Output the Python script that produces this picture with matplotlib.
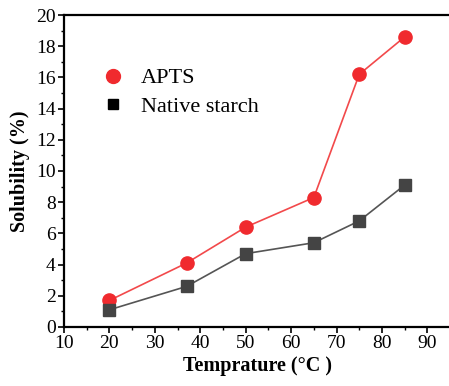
import matplotlib
matplotlib.use("Agg")
import matplotlib.pyplot as plt
from matplotlib.ticker import MultipleLocator
from matplotlib.lines import Line2D

# data
temp = [20, 37, 50, 65, 75, 85]
apts = [1.7, 4.1, 6.4, 8.3, 16.2, 18.6]
native = [1.1, 2.6, 4.7, 5.4, 6.8, 9.1]

plt.rcParams['font.family'] = ['Liberation Serif', 'DejaVu Serif']

fig = plt.figure(figsize=(4.49, 3.86), dpi=100)
ax = fig.add_axes([0.1425, 0.153, 0.86, 0.808])

red = '#f02a2e'
grey = '#444444'
ax.plot(temp, apts, color='#f2494b', lw=1.2, marker='o', ms=9.5,
        mfc=red, mec=red)
ax.plot(temp, native, color='#555555', lw=1.2, marker='s', ms=8,
        mfc=grey, mec=grey)

ax.set_xlim(10, 95)
ax.set_ylim(0, 20)
ax.set_xticks(range(10, 100, 10))
ax.xaxis.set_minor_locator(MultipleLocator(5))
ax.yaxis.set_major_locator(MultipleLocator(2))
ax.yaxis.set_minor_locator(MultipleLocator(1))
ax.tick_params(which='major', direction='out', length=4, width=1.2, labelsize=14, pad=2)
ax.tick_params(which='minor', direction='out', length=2.5, width=1)
for s in ax.spines.values():
    s.set_linewidth(1.6)

ax.set_xlabel('Temprature (°C )', fontsize=14.5, fontweight='bold', labelpad=3)
ax.set_ylabel('Solubility (%)', fontsize=14.5, fontweight='bold', labelpad=4)

# legend shows markers only
handles = [
    Line2D([], [], ls='none', marker='o', ms=10, mfc=red, mec=red),
    Line2D([], [], ls='none', marker='s', ms=7.5, mfc='black', mec='black'),
]
ax.legend(handles, ['APTS', 'Native starch'], loc='upper left',
          bbox_to_anchor=(0.052, 0.895), frameon=False, fontsize=16,
          handlelength=0.8, handletextpad=0.85, labelspacing=0.35)

fig.savefig('out.png', dpi=100)
